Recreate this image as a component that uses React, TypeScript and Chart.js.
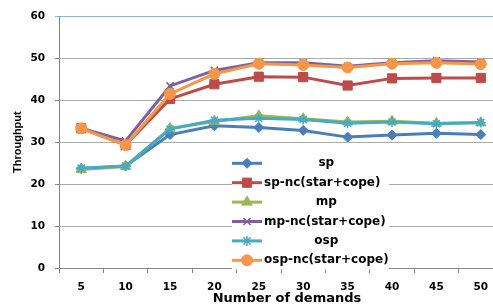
import React, { useEffect, useRef } from "react";
import { Chart, registerables } from "chart.js";
import { drawPoint } from "chart.js/helpers";

Chart.register(...registerables);

const categories = ["5", "10", "15", "20", "25", "30", "35", "40", "45", "50"];
const yTicks = [0, 10, 20, 30, 40, 50, 60];

const seriesNames = ["sp", "sp-nc(star+cope)", "mp", "mp-nc(star+cope)", "osp", "osp-nc(star+cope)"];
const sp = [23.7, 24.3, 31.8, 33.9, 33.5, 32.8, 31.2, 31.7, 32.1, 31.8];
const spNc = [33.3, 29.3, 40.3, 43.8, 45.6, 45.5, 43.5, 45.2, 45.3, 45.3];
const mp = [23.5, 24.2, 33.3, 34.9, 36.3, 35.6, 34.8, 35.0, 34.5, 34.6];
const mpNc = [33.3, 30.3, 43.4, 47.1, 48.9, 48.9, 48.1, 48.9, 49.4, 49.1];
const osp = [23.8, 24.3, 33.1, 35.2, 35.7, 35.4, 34.5, 34.8, 34.4, 34.7];
const ospNc = [33.3, 29.3, 41.5, 46.3, 48.7, 48.4, 47.8, 48.7, 48.9, 48.6];

const seriesValues = [sp, spNc, mp, mpNc, osp, ospNc];
const colors = ["#4A7EBB", "#BE4B48", "#98B954", "#7D60A0", "#46AAC5", "#F79646"];
const pointStyles = ["rectRot", "rect", "triangle", "crossRot", "star", "circle"];
const pointRadii = [5, 6.5, 6, 5, 5, 5.5];

const TICK_FONT = { family: "DejaVu Sans", size: 10.5, weight: "bold" as const };

const legendPlugin = {
  id: "customLegend",
  afterDraw(chart: any) {
    const { ctx, chartArea } = chart;
    const boxLeft = chartArea.left + 173;
    const boxTop = chartArea.top + 137;
    ctx.save();
    ctx.fillStyle = "#ffffff";
    ctx.fillRect(boxLeft, boxTop, 157, 116);
    ctx.font = 'bold 12px "DejaVu Sans"';
    ctx.textBaseline = "middle";
    const textX = boxLeft + 32;
    const widths = seriesNames.map((n) => ctx.measureText(n).width);
    const maxW = Math.max(...widths);
    chart.data.datasets.forEach((ds: any, i: number) => {
      const y = boxTop + 10 + i * 19.4;
      ctx.strokeStyle = ds.borderColor;
      ctx.lineWidth = 3;
      ctx.beginPath();
      ctx.moveTo(boxLeft, y);
      ctx.lineTo(boxLeft + 30, y);
      ctx.stroke();
      ctx.fillStyle = ds.pointBackgroundColor;
      ctx.strokeStyle = ds.pointBorderColor;
      ctx.lineWidth = ds.pointBorderWidth;
      drawPoint(ctx, { pointStyle: ds.pointStyle, rotation: 0, radius: ds.pointRadius, borderWidth: ds.pointBorderWidth }, boxLeft + 15, y);
      ctx.fillStyle = "#000";
      const w = widths[i];
      const x = w < maxW * 0.5 ? textX + (maxW - w) / 2 : textX;
      ctx.textAlign = "left";
      ctx.fillText(ds.label, x, y);
    });
    // x axis title
    ctx.font = 'bold 13px "DejaVu Sans"';
    ctx.textAlign = "center";
    ctx.textBaseline = "middle";
    ctx.fillStyle = "#000";
    ctx.fillText("Number of demands", (chartArea.left + chartArea.right) / 2 + 6, chartArea.bottom + 30.5);
    ctx.restore();
  },
};

export default function App() {
  const ref = useRef<HTMLCanvasElement>(null);
  useEffect(() => {
    const canvas = ref.current;
    if (!canvas) return;
    const chart = new Chart(canvas, {
      type: "line",
      data: {
        labels: categories,
        datasets: seriesValues.map((vals, i) => ({
          label: seriesNames[i],
          data: vals,
          borderColor: colors[i],
          backgroundColor: colors[i],
          pointBackgroundColor: colors[i],
          pointBorderColor: colors[i],
          pointBorderWidth: pointStyles[i] === "crossRot" || pointStyles[i] === "star" ? 1.5 : 1,
          pointStyle: pointStyles[i],
          pointRadius: pointRadii[i],
          borderWidth: 3,
          tension: 0,
          fill: false,
          order: seriesValues.length - i,
        })),
      },
      options: {
        responsive: false,
        devicePixelRatio: 1,
        animation: false,
        layout: { padding: { top: 13, right: 9, bottom: 0, left: 0 } },
        plugins: { legend: { display: false }, tooltip: { enabled: false } },
        scales: {
          x: {
            type: "category",
            offset: true,
            grid: {
              display: true,
              drawOnChartArea: false,
              drawTicks: true,
              tickLength: 5,
              offset: true,
              color: "#868686",
            },
            border: { display: true, color: "#868686", width: 1 },
            ticks: { font: TICK_FONT, color: "#000", padding: 7.5, maxRotation: 0, autoSkip: false },
            afterFit: (scale: any) => {
              scale.height = 38;
            },
          },
          y: {
            min: yTicks[0],
            max: yTicks[yTicks.length - 1],
            afterBuildTicks: (scale: any) => {
              scale.ticks = yTicks.map((v) => ({ value: v }));
            },
            grid: {
              color: (c: any) => (c.tick && c.tick.value === 60 ? "#8EB4E3" : "#ABABAB"),
              tickColor: (c: any) => (c.tick && c.tick.value === 60 ? "#8EB4E3" : "#868686"),
              tickLength: 4,
              lineWidth: 1,
            },
            border: { display: true, color: "#868686", width: 1 },
            ticks: { font: TICK_FONT, color: "#000", padding: 10 },
            title: {
              display: true,
              text: "Throughput",
              color: "#000",
              font: { family: "Liberation Sans", size: 11, weight: "bold" },
              padding: { top: 11, bottom: 0 },
            },
            afterFit: (scale: any) => {
              scale.width = 59;
            },
          },
        },
      },
      plugins: [legendPlugin],
    });
    return () => chart.destroy();
  }, []);
  return (
    <div style={{ position: "fixed", left: 0, top: 0, width: 512, height: 306, background: "#fff" }}>
      <canvas ref={ref} width={512} height={306} />
    </div>
  );
}
